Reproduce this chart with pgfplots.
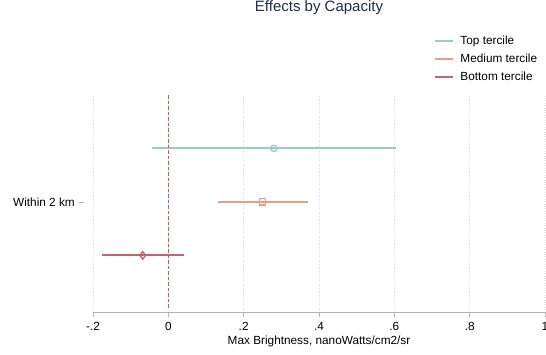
\documentclass[border=0pt]{standalone}
\usepackage{pgfplots}
\pgfplotsset{compat=1.18}
\usepackage{fontspec}
\setmainfont{Liberation Sans}
\definecolor{cTop}{RGB}{150,205,200}
\definecolor{cMed}{RGB}{228,158,138}
\definecolor{cBot}{RGB}{204,96,114}
\definecolor{cTitle}{RGB}{30,45,90}
\definecolor{cAxis}{RGB}{180,180,180}
\definecolor{cZero}{RGB}{232,80,80}
\begin{document}
\begin{tikzpicture}
\path[use as bounding box] (0,0) rectangle (546pt,354pt);
\begin{axis}[
  at={(93pt,42pt)}, anchor=south west,
  scale only axis, width=452pt, height=217pt,
  xmin=-0.2, xmax=1, ymin=-2.06, ymax=2, enlargelimits=false,
  axis x line*=bottom, axis y line*=left,
  axis line style={-, draw=cAxis, line width=0.9pt},
  y axis line style={draw=none},
  xtick={-0.2,0,0.2,0.4,0.6,0.8,1},
  xticklabels={-.2,0,.2,.4,.6,.8,1},
  xtick align=outside,
  major tick length=5pt,
  xtick style={draw=cAxis, line width=0.9pt},
  ytick={0},
  yticklabels={Within 2 km\hspace{4pt}\textcolor{cAxis}{\rule[3.2pt]{5pt}{0.8pt}}},
  ytick style={draw=none},
  yticklabel style={inner sep=0pt, xshift=-9pt, anchor=east},
  xticklabel style={inner sep=0pt, yshift=-5pt, anchor=north},
  /pgf/number format/assume math mode=true,
  tick label style={font=\fontsize{11.8}{14}\selectfont},
  label style={font=\fontsize{11.8}{14}\selectfont},
  xlabel={Max Brightness, nanoWatts/cm2/sr},
  xlabel style={at={(0.5,0)}, anchor=center, yshift=-29pt},
  xmajorgrids,
  grid style={draw=black!14, dotted, line width=0.8pt},
  title={Effects by Capacity},
  title style={font=\fontsize{15}{18}\selectfont, color=cTitle, at={(0.5,1.373)}, anchor=center},
  legend style={draw=none, fill=none, at={(0.755,1.28)}, anchor=north west,
    font=\fontsize{11.8}{14}\selectfont, inner sep=0pt, row sep=3.6pt,
    cells={anchor=west}},
  legend image code/.code={\draw[#1, mark=none, line width=2pt] (0pt,0pt) -- (18pt,0pt); \path (22pt,0pt);},
  clip=false,
]
\addplot[cTop, line width=2pt] coordinates {(-0.044,1) (0.604,1)};
\addlegendentry{Top tercile}
\addplot[cMed, line width=2pt] coordinates {(0.131,0) (0.370,0)};
\addlegendentry{Medium tercile}
\addplot[cBot, line width=2pt] coordinates {(-0.177,-1) (0.041,-1)};
\addlegendentry{Bottom tercile}
\addplot[forget plot, cZero, line width=1.5pt, dash pattern=on 3.5pt off 2pt] coordinates {(0,-1.98) (0,2)};
\addplot[forget plot, only marks, cTop, mark=o, mark size=3.2pt, line width=1.3pt] coordinates {(0.280,1)};
\addplot[forget plot, only marks, cMed, mark=square, mark size=3.2pt, line width=1.3pt] coordinates {(0.250,0)};
\addplot[forget plot, only marks, cBot, mark=diamond, mark size=3.8pt, line width=1.3pt] coordinates {(-0.068,-1)};
\end{axis}
\end{tikzpicture}
\end{document}
